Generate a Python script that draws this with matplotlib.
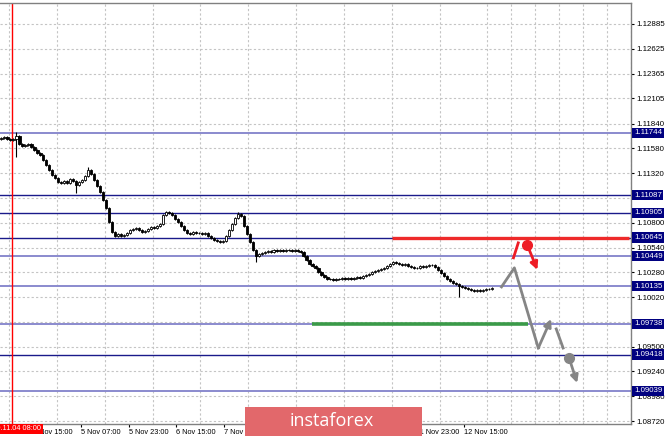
import matplotlib
matplotlib.use('Agg')
import matplotlib.pyplot as plt
import matplotlib.transforms as mtransforms
from matplotlib.patches import Rectangle

plt.rcParams['font.family'] = ['Liberation Sans', 'DejaVu Sans']

# ---------------- data ----------------
first_open = 1.11681
closes = [
    1.11692, 1.11702, 1.11681, 1.11671, 1.11681, 1.11713, 1.11629, 1.11608, 1.11618, 1.11629,
    1.11597, 1.11566, 1.11534, 1.11513, 1.11461, 1.11408, 1.11356, 1.11303, 1.11272, 1.11230,
    1.11219, 1.11240, 1.11219, 1.11261, 1.11240, 1.11198, 1.11230, 1.11251, 1.11293, 1.11356,
    1.11314, 1.11251, 1.11188, 1.11125, 1.11041, 1.10956, 1.10810, 1.10705, 1.10663, 1.10684,
    1.10663, 1.10673, 1.10694, 1.10726, 1.10736, 1.10747, 1.10726, 1.10705, 1.10715, 1.10736,
    1.10757, 1.10747, 1.10768, 1.10789, 1.10883, 1.10915, 1.10904, 1.10883, 1.10841, 1.10810,
    1.10768, 1.10726, 1.10694, 1.10684, 1.10705, 1.10694, 1.10694, 1.10684, 1.10694, 1.10663,
    1.10642, 1.10621, 1.10610, 1.10600, 1.10610, 1.10663, 1.10726, 1.10789, 1.10852, 1.10894,
    1.10873, 1.10768, 1.10684, 1.10600, 1.10516, 1.10453, 1.10474, 1.10484, 1.10495, 1.10505,
    1.10495, 1.10516, 1.10505, 1.10516, 1.10505, 1.10516, 1.10516, 1.10505, 1.10516, 1.10505,
    1.10495, 1.10453, 1.10411, 1.10369, 1.10348, 1.10327, 1.10285, 1.10253, 1.10232, 1.10211,
    1.10211, 1.10201, 1.10211, 1.10211, 1.10222, 1.10211, 1.10222, 1.10211, 1.10222, 1.10232,
    1.10222, 1.10243, 1.10253, 1.10264, 1.10285, 1.10295, 1.10306, 1.10316, 1.10327, 1.10348,
    1.10369, 1.10390, 1.10379, 1.10369, 1.10358, 1.10369, 1.10348, 1.10337, 1.10327, 1.10327,
    1.10348, 1.10337, 1.10348, 1.10358, 1.10358, 1.10337, 1.10306, 1.10274, 1.10243, 1.10211,
    1.10190, 1.10169, 1.10159, 1.10138, 1.10127, 1.10117, 1.10106, 1.10096, 1.10085, 1.10096,
    1.10085, 1.10096, 1.10106, 1.10106, 1.10117,
]
wick = 0.00012
long_highs = {5: 1.11755, 29: 1.11387, 79: 1.10915}
long_lows = {5: 1.11492, 25: 1.11114, 85: 1.10390, 153: 1.10022}

levels = [1.11744, 1.11087, 1.10905, 1.10645, 1.10449, 1.10135, 1.09738, 1.09418, 1.09039]
level_kinds = ['light', 'dark', 'dark', 'red', 'light', 'light', 'light', 'dark', 'light']

y_ticks = [1.12885, 1.12625, 1.12365, 1.12105, 1.11840, 1.11580, 1.11320, 1.11060, 1.10800,
           1.10540, 1.10280, 1.10020, 1.09760, 1.09500, 1.09240, 1.08980, 1.08720]

x_tick_hours = [11, 27, 43, 59, 75, 91, 107, 123, 139, 155]
x_tick_labels = ['4 Nov 15:00', '5 Nov 07:00', '5 Nov 23:00', '6 Nov 15:00', '7 Nov 07:00',
                 '7 Nov 23:00', '8 Nov 15:00', '11 Nov 07:00', '11 Nov 23:00', '12 Nov 15:00']
start_hour = 4
start_label = '2019.11.04 08:00'

# forecast scenario drawings (hour index, price)
red_level_start = 131
green_level = 1.09738
green_span = [104.3, 176.7]
gray_path_t = [167.7, 172.0, 180.0]
gray_path_p = [1.10127, 1.10327, 1.09486]
gray_up_arrow_t = [180.0, 184.3]
gray_up_arrow_p = [1.09486, 1.09791]
gray_seg_t = [186.0, 188.3]
gray_seg_p = [1.09686, 1.09486]
gray_dot = (190.3, 1.09382)
gray_down_arrow_t = [190.3, 193.0]
gray_down_arrow_p = [1.09382, 1.09119]
red_seg_t = [171.7, 173.3]
red_seg_p = [1.10432, 1.10589]
red_dot = (176.3, 1.10568)
red_arrow_t = [176.3, 179.7]
red_arrow_p = [1.10568, 1.10306]

# ---------------- figure ----------------
W, H = 665, 438
fig = plt.figure(figsize=(W / 100, H / 100), dpi=100)
ax = fig.add_axes([0, 1 - 424 / H, 631 / W, 421 / H])
ax.set_xlim(0, 631 / 3)
ax.set_ylim(1.08689, 1.13105)

# grid
ax.set_yticks(y_ticks)
ax.set_yticklabels(['' if v in (1.11060, 1.09760) else f'{v:.5f}' for v in y_ticks])
ax.set_xticks(x_tick_hours)
ax.set_xticklabels(x_tick_labels)
ax.set_xticks([3 + 8 * k for k in range(27)], minor=True)
ax.yaxis.tick_right()
ax.tick_params(axis='y', labelsize=5.7, length=2.2, pad=2, colors='black')
ax.tick_params(axis='x', which='major', labelsize=5.3, length=2.2, pad=1.2)
ax.tick_params(axis='x', which='minor', length=0)
for lab in ax.get_xticklabels():
    lab.set_ha('left')
grid_kw = dict(color='#c4c4c4', linestyle=(0, (2, 2)), linewidth=0.8)
ax.grid(True, axis='y', which='major', **grid_kw)
ax.grid(True, axis='x', which='minor', **grid_kw)
ax.set_axisbelow(True)
for s in ax.spines.values():
    s.set_color('#808080')
    s.set_linewidth(1)
ax.spines['left'].set_visible(False)

# levels
color_map = {'light': '#8a8ace', 'dark': '#1a1a8a', 'red': '#1a1a8a'}
lw_map = {'light': 1.4, 'dark': 1.0, 'red': 1.0}
for lv, kind in zip(levels, level_kinds):
    ax.axhline(lv, color=color_map[kind], lw=lw_map[kind], zorder=2)

# red vertical start line
ax.axvline(start_hour, color='#ff0000', lw=1, zorder=2)

# candles
opens = [first_open] + closes[:-1]
for i, (o, c) in enumerate(zip(opens, closes)):
    x = i + 0.5
    hi = long_highs.get(i, max(o, c) + wick)
    lo = long_lows.get(i, min(o, c) - wick)
    ax.vlines(x, lo, hi, color='black', lw=0.8, zorder=4)
    bottom = min(o, c)
    height = max(abs(c - o), 0.00003)
    fc = 'white' if c >= o else 'black'
    ax.add_patch(Rectangle((x - 0.38, bottom), 0.76, height, fc=fc, ec='black', lw=0.6, zorder=5))

# red resistance and green support
ax.plot([red_level_start, 631 / 3], [1.10645, 1.10645], color='#ee2a2a', lw=2.4, zorder=6,
        solid_capstyle='butt')
ax.plot(green_span, [green_level, green_level], color='#3a9a48', lw=2.6, zorder=6,
        solid_capstyle='butt')

gray = '#858585'
red = '#ee1c25'
ax.plot(gray_path_t, gray_path_p, color=gray, lw=2, zorder=7)
ax.annotate('', xy=(gray_up_arrow_t[1], gray_up_arrow_p[1]),
            xytext=(gray_up_arrow_t[0], gray_up_arrow_p[0]),
            arrowprops=dict(arrowstyle='-|>', color=gray, lw=2, mutation_scale=11,
                            shrinkA=0, shrinkB=0), zorder=7)
ax.plot(gray_seg_t, gray_seg_p, color=gray, lw=2, zorder=7)
ax.plot(*gray_dot, 'o', color=gray, ms=7, zorder=7)
ax.annotate('', xy=(gray_down_arrow_t[1], gray_down_arrow_p[1]),
            xytext=(gray_down_arrow_t[0], gray_down_arrow_p[0]),
            arrowprops=dict(arrowstyle='-|>', color=gray, lw=2, mutation_scale=11,
                            shrinkA=0, shrinkB=0), zorder=7)
ax.plot(red_seg_t, red_seg_p, color=red, lw=2, zorder=7)
ax.plot(*red_dot, 'o', color=red, ms=7, zorder=7)
ax.annotate('', xy=(red_arrow_t[1], red_arrow_p[1]),
            xytext=(red_arrow_t[0], red_arrow_p[0]),
            arrowprops=dict(arrowstyle='-|>', color=red, lw=2, mutation_scale=11,
                            shrinkA=0, shrinkB=0), zorder=7)

# level price boxes on the axis
trans = mtransforms.blended_transform_factory(ax.transAxes, ax.transData)
for lv, kind in zip(levels, level_kinds):
    ax.text(1 + 3 / 631, lv, f'{lv:.5f}', transform=trans, ha='left', va='center',
            fontsize=5.7, color='white', zorder=20, clip_on=False,
            bbox=dict(boxstyle='square,pad=0.2', fc='#000080', ec='none'))

# start date label
fig.text(41 / W, 1 - 429 / H, start_label, ha='right', va='center', fontsize=5.3,
         color='white', zorder=20,
         bbox=dict(boxstyle='square,pad=0.25', fc='#ff0000', ec='none'))

# watermark logo
fig.patches.append(Rectangle((245 / W, 2 / H), 177 / W, 29 / H, transform=fig.transFigure,
                             fc='#e2686b', ec='none', zorder=30))
fig.text(290 / W, 1 - 421 / H, 'instaforex', ha='left', va='center', fontsize=13,
         color='white', family=['Open Sans', 'DejaVu Sans'], zorder=31)

fig.savefig('out.png', dpi=100)
